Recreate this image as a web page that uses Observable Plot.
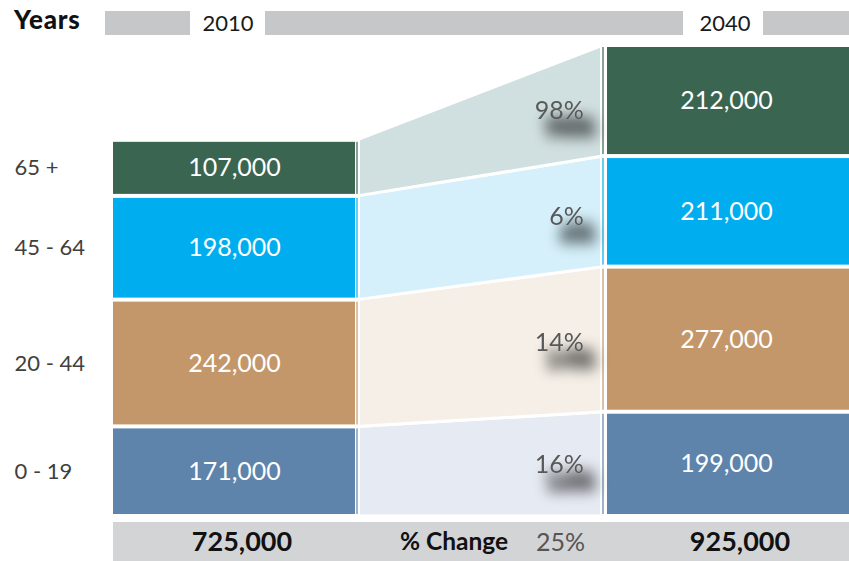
<!DOCTYPE html>
<html><head><meta charset="utf-8">
<script src="https://cdn.jsdelivr.net/npm/d3@7"></script>
<script src="https://cdn.jsdelivr.net/npm/@observablehq/plot@0.6"></script>
<style>
body{margin:0;width:849px;height:561px;overflow:hidden;background:#fff;font-family:Lato,"Open Sans",sans-serif;position:relative}
.abs{position:absolute}
.gbar{position:absolute;top:11px;height:24px;background:#c6c7c9}
.yr{position:absolute;top:9px;height:28px;line-height:28px;font-size:22px;color:#1a1a1a;text-align:center;width:80px}
#chart{position:absolute;left:0;top:44px}
#footer{position:absolute;left:113px;top:522px;width:736px;height:39px;background:#d3d4d6}
.ft{position:absolute;top:0;height:39px;line-height:38px;font-size:24px;white-space:nowrap}
</style></head><body>
<div class="abs" style="left:14px;top:3px;font-size:26px;font-weight:900;color:#111;letter-spacing:0.8px">Years</div>
<div class="abs" style="left:17px;top:98px;font-size:26px;font-weight:900;color:#111;letter-spacing:0.8px">Ages</div>
<div id="header"></div>
<div id="chart"></div>
<div id="footer"></div>
<svg width="0" height="0" style="position:absolute">
  <defs>
    <filter id="pctShadow" x="-100%" y="-100%" width="300%" height="300%" filterUnits="objectBoundingBox">
      <feMorphology in="SourceAlpha" operator="dilate" radius="2" result="d"/>
      <feGaussianBlur in="d" stdDeviation="7" result="b"/>
      <feOffset in="b" dx="11" dy="17" result="o"/>
      <feComponentTransfer in="o" result="s"><feFuncA type="linear" slope="0.55"/></feComponentTransfer>
      <feMerge><feMergeNode in="s"/><feMergeNode in="SourceGraphic"/></feMerge>
    </filter>
  </defs>
</svg>
<script>
const years = ["2010", "2040"];
const ages = ["0 - 19", "20 - 44", "45 - 64", "65 +"];
const pop2010 = [171000, 242000, 198000, 107000];
const pop2040 = [199000, 277000, 211000, 212000];
const pctChange = ["16%", "14%", "6%", "98%"];
const totals = ["725,000", "925,000"];
const totalChangeLabel = "% Change";
const totalChange = "25%";
const colors = ["#5e84ab", "#c4976a", "#00aeef", "#3a6551"];
const bandColors = ["#e6eaf2", "#f5efe7", "#d5f0fa", "#d0dfe0"];

// header
const header = document.getElementById("header");
[[105,85],[265,418],[763,86]].forEach(([l,w])=>{
  const d=document.createElement("div");d.className="gbar";d.style.left=l+"px";d.style.width=w+"px";header.appendChild(d);
});
[[188,years[0]],[685,years[1]]].forEach(([l,t])=>{
  const d=document.createElement("div");d.className="yr";d.style.left=l+"px";d.textContent=t;header.appendChild(d);
});

// footer
const footer = document.getElementById("footer");
[[242-113, totals[0]], [740-113, totals[1]]].forEach(([c,txt])=>{
  const d=document.createElement("div");d.className="ft";d.style.left=(c-80)+"px";d.style.width="160px";d.style.textAlign="center";
  d.style.fontWeight="bold";d.style.fontSize="27px";d.style.color="#111";d.textContent=txt;footer.appendChild(d);
});
const ch=document.createElement("div");ch.className="ft";ch.style.left=(400-113)+"px";ch.style.fontWeight="bold";ch.style.fontSize="24.5px";ch.style.color="#111";ch.textContent=totalChangeLabel;footer.appendChild(ch);
const tc=document.createElement("div");tc.className="ft";tc.style.left=(536-113)+"px";tc.style.color="#555";tc.style.fontSize="25px";tc.textContent=totalChange;footer.appendChild(tc);

// stacked rows
const c0 = d3.cumsum(pop2010), c1 = d3.cumsum(pop2040);
const rows = ages.map((age, k) => ({
  age, k,
  v0: pop2010[k], v1: pop2040[k],
  lo0: c0[k] - pop2010[k], hi0: c0[k],
  lo1: c1[k] - pop2040[k], hi1: c1[k],
  pct: pctChange[k]
}));
const t = 0.85;
rows.forEach(r => {
  const lo = r.lo0 + t * (r.lo1 - r.lo0), hi = r.hi0 + t * (r.hi1 - r.hi0);
  r.pctY = (lo + hi) / 2;
});
const bars = [
  ...rows.map(r => ({col: 0, edge: 1, y1: r.lo0, y2: r.hi0, v: r.v0, k: r.k})),
  ...rows.map(r => ({col: 2, edge: 2, y1: r.lo1, y2: r.hi1, v: r.v1, k: r.k}))
];
const fmt = d3.format(",");
const yMax = d3.max([d3.sum(pop2010), d3.sum(pop2040)]);

const plot = Plot.plot({
  width: 849, height: 476,
  marginLeft: 111, marginRight: 0, marginTop: 1, marginBottom: 4,
  x: {domain: [0, 3], axis: null},
  y: {domain: [0, yMax], axis: null},
  style: {fontFamily: "Lato, 'Open Sans', sans-serif", background: "white"},
  marks: [
    ...rows.map(r => Plot.areaY(
      [{x: 1, y1: r.lo0, y2: r.hi0}, {x: 2, y1: r.lo1, y2: r.hi1}],
      {x: "x", y1: "y1", y2: "y2", fill: bandColors[r.k], stroke: "white", strokeWidth: 3}
    )),
    Plot.rect(bars, {x1: "edge", x2: "edge", y1: "y1", y2: "y2", fill: "white", insetLeft: -3, insetRight: -3}),
    Plot.rect(bars, {x1: d => d.col, x2: d => d.col + 1, y1: "y1", y2: "y2", fill: d => colors[d.k],
      insetLeft: 2, insetRight: 2, insetTop: 2, insetBottom: 2, filter: d => d.col === 0}),
    Plot.rect(bars, {x1: d => d.col, x2: d => d.col + 1, y1: "y1", y2: "y2", fill: d => colors[d.k],
      insetLeft: 4, insetRight: 0, insetTop: 2, insetBottom: 2, filter: d => d.col === 2}),
    Plot.rect(bars, {x1: "edge", x2: "edge", y1: "y1", y2: "y2", fill: d => colors[d.k], insetLeft: -0.6, insetRight: -0.6, insetTop: 2, insetBottom: 2}),
    Plot.text(bars, {x: d => d.col + 0.5, y: d => (d.y1 + d.y2) / 2, text: d => fmt(d.v), fill: "white", fontSize: 25}),
    Plot.text(rows, {x: d => 0, dx: -97, y: d => (d.lo0 + d.hi0) / 2, text: "age", textAnchor: "start", fill: "#404040", fontSize: 22}),
    Plot.text(rows, {x: d => 1.92, y: "pctY", text: "pct", textAnchor: "end", fill: "#595959", fontSize: 25})
  ]
});
d3.select(plot).selectAll("text")
  .filter(function() { return pctChange.includes(this.textContent); })
  .attr("filter", "url(#pctShadow)");
document.getElementById("chart").appendChild(plot);
</script>
</body></html>
